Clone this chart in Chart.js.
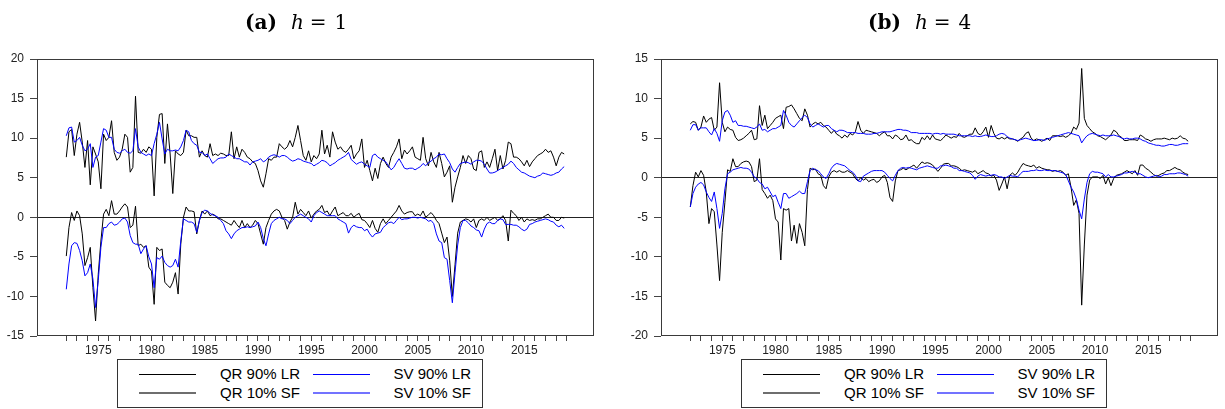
<!DOCTYPE html>
<html>
<head>
<meta charset="utf-8">
<script src="https://cdn.jsdelivr.net/npm/chart.js@4.4.0/dist/chart.umd.min.js"></script>
<style>
  html, body { margin: 0; padding: 0; background: #fff; }
  #page { position: relative; width: 1225px; height: 409px; overflow: hidden; font-family: "Liberation Sans", Arial, sans-serif; }
  canvas { position: absolute; top: 0; }
  .title { position: absolute; top: 10px; font-family: "DejaVu Serif", serif; font-size: 20px; line-height: 24px; color: #000; white-space: nowrap; }
  .legend { position: absolute; top: 359px; width: 364px; height: 47px; border: 1px solid #333; background: #fff; }
  .legend .sw { position: absolute; height: 0; width: 57px; }
  .legend .lb { position: absolute; width: 120px; text-align: right; font-size: 15px; line-height: 18px; color: #000; }
</style>
</head>
<body>
<div id="page">
  <canvas id="chartA" width="612" height="409" style="left:0;width:612px;height:409px"></canvas>
  <canvas id="chartB" width="601" height="409" style="left:624px;width:601px;height:409px"></canvas>
  <div class="title" style="left:245px"><b>(a)</b><span style="margin-left:14px"><i>h</i></span><span style="margin-left:6px">=</span><span style="margin-left:8px">1</span></div>
  <div class="title" style="left:868px"><b>(b)</b><span style="margin-left:14px"><i>h</i></span><span style="margin-left:6px">=</span><span style="margin-left:8px">4</span></div>
  <div class="legend" id="legendA" style="left:117px"></div>
  <div class="legend" id="legendB" style="left:741px"></div>
</div>
<script>
// quarterly data, 1972Q1 - 2018Q4
const startYear = 1972;
const seriesNames = ['QR 90% LR', 'SV 90% LR', 'QR 10% SF', 'SV 10% SF'];

// panel (a) h = 1
const qrUpperA = [
  7.6, 10.8, 11.1, 7.8, 10.5, 12.0, 9.5, 6.3, 9.7, 4.1, 8.9, 8.0, 7.0, 3.6, 10.5, 9.7,
  10.1, 12.2, 8.2, 7.2, 7.6, 8.6, 10.5, 10.1, 5.7, 6.3, 15.3, 8.2, 8.1, 8.6, 8.2, 8.9,
  8.6, 2.7, 10.1, 13.0, 13.1, 6.8, 11.8, 8.0, 3.0, 8.4, 8.0, 7.8, 8.2, 11.0, 10.3, 10.3,
  10.1, 10.1, 7.6, 8.4, 7.8, 7.6, 9.3, 7.8, 8.0, 7.8, 8.1, 8.0, 7.8, 7.8, 10.8, 7.4,
  8.9, 7.6, 8.6, 8.2, 7.6, 7.4, 7.0, 6.8, 5.9, 4.6, 3.8, 5.5, 7.4, 7.2, 7.6, 7.6,
  9.3, 8.9, 8.6, 8.9, 9.7, 8.9, 10.1, 11.6, 9.7, 7.8, 7.2, 8.4, 7.0, 7.8, 7.4, 8.0,
  11.0, 8.0, 9.1, 7.6, 10.8, 9.5, 8.6, 8.9, 8.4, 8.2, 8.6, 9.1, 7.4, 8.0, 8.4, 9.9,
  6.3, 7.2, 5.9, 4.6, 6.2, 4.9, 6.8, 7.6, 6.8, 6.3, 7.6, 8.2, 8.9, 9.9, 7.4, 8.5,
  8.0, 8.4, 8.9, 7.6, 7.4, 7.2, 10.1, 7.4, 6.5, 8.2, 7.0, 6.3, 8.2, 6.8, 5.1, 5.7,
  6.5, 1.9, 3.8, 5.1, 6.3, 7.8, 6.8, 7.8, 7.4, 6.1, 5.9, 8.2, 8.4, 6.3, 7.0, 6.3,
  7.4, 8.6, 5.9, 7.8, 6.1, 7.2, 9.5, 9.3, 7.6, 7.6, 7.4, 7.0, 6.5, 7.2, 6.4, 7.0,
  7.4, 7.8, 8.0, 8.2, 8.6, 8.2, 8.4, 7.6, 6.5, 7.6, 8.2, 8.0
];
const svUpperA = [
  10.3, 11.3, 11.4, 9.5, 9.7, 10.1, 9.1, 8.4, 8.6, 9.3, 6.3, 7.6, 7.8, 9.5, 11.2, 11.0,
  10.1, 10.1, 8.6, 8.2, 8.1, 8.4, 8.6, 8.2, 8.1, 8.4, 11.2, 8.9, 8.2, 8.0, 7.8, 8.0,
  7.8, 9.3, 10.5, 12.0, 9.9, 8.0, 8.6, 8.4, 8.4, 8.5, 8.4, 8.9, 9.7, 11.0, 10.8, 9.7,
  9.3, 9.1, 8.2, 8.2, 7.8, 8.0, 7.4, 6.8, 7.1, 7.4, 7.5, 7.5, 7.6, 8.0, 7.8, 7.6,
  7.4, 7.4, 7.2, 7.0, 7.0, 6.6, 7.0, 7.1, 7.2, 7.4, 7.0, 7.2, 7.6, 7.8, 7.9, 7.8,
  7.6, 7.8, 7.8, 7.6, 7.3, 7.1, 7.2, 7.4, 7.3, 7.1, 7.0, 6.9, 6.8, 6.5, 6.7, 6.9,
  7.2, 7.1, 6.9, 6.5, 6.7, 6.9, 7.2, 7.4, 7.6, 7.8, 8.2, 7.3, 7.0, 6.7, 6.9, 7.0,
  6.7, 6.5, 6.3, 7.8, 8.0, 7.6, 7.4, 7.2, 7.0, 6.5, 6.0, 6.3, 6.9, 7.4, 6.8, 6.2,
  6.1, 6.2, 6.2, 6.0, 6.2, 6.4, 6.8, 6.5, 6.9, 7.1, 7.4, 7.6, 8.0, 7.9, 8.0, 7.4,
  6.9, 6.1, 5.7, 6.3, 6.8, 6.9, 7.0, 6.9, 6.7, 7.0, 7.2, 7.2, 7.1, 6.7, 6.1, 5.6,
  5.6, 5.7, 5.9, 6.1, 6.3, 6.5, 6.7, 7.1, 6.8, 6.3, 6.0, 5.7, 5.6, 5.4, 5.2, 5.1,
  5.0, 5.2, 5.3, 5.6, 5.5, 5.4, 5.3, 5.4, 5.6, 5.7, 6.1, 6.4
];
const qrLowerA = [
  -4.9, -1.3, 0.6, -0.4, 0.8, 0.2, -2.1, -6.1, -5.1, -3.8, -8.9, -13.1, -7.2, -3.0, 0.4, 1.0,
  0.2, 2.1, 0.4, 0.4, 0.8, 1.3, 1.7, 1.3, -1.3, -1.0, 1.4, -3.6, -3.4, -3.8, -3.6, -6.3,
  -6.8, -11.0, -3.8, -4.2, -4.0, -8.2, -8.6, -8.9, -8.2, -7.0, -9.7, -3.4, 0.0, 1.3, 0.8, 0.8,
  0.7, -2.1, -0.4, 0.8, 0.4, 0.8, 0.2, 0.4, 0.2, -0.2, -0.2, -0.4, -0.6, -0.8, -1.0, -0.4,
  -0.9, -1.3, -0.4, -1.3, -0.8, -1.3, -1.0, -0.4, -0.8, -2.1, -3.4, -1.3, -0.4, 0.4, 0.8, 1.0,
  0.8, 0.0, -0.4, -1.5, -0.6, 0.0, 1.9, 0.4, 1.0, 0.6, 0.2, 0.8, -0.1, 0.4, 0.8, 1.0,
  1.5, 0.6, 0.8, 0.2, 0.8, 1.3, 0.2, 0.4, 0.6, 0.2, 0.2, 0.5, 0.0, 0.3, 0.5, -0.3,
  -0.4, -0.8, -1.3, -0.4, -1.4, -1.9, -0.8, -0.2, -0.8, -0.4, 0.0, 0.4, 0.8, 1.5, 0.8, 0.4,
  0.6, 0.7, 0.7, 0.2, 0.4, 0.2, 0.8, 0.0, 0.3, 0.6, 0.2, -0.4, -0.8, -2.0, -3.2, -2.5,
  -5.5, -10.0, -6.0, -2.0, -0.6, -0.4, -0.2, -0.3, -0.6, -0.2, -1.3, -0.4, -0.2, -0.4, 0.0, -0.4,
  -0.2, 0.0, -0.4, -0.2, 0.2, -0.4, -3.0, 0.9, 0.5, 0.2, -0.4, 0.0, -0.6, -0.2, -0.4, -0.3,
  -0.4, -0.2, -0.2, 0.0, 0.2, 0.4, 0.0, 0.0, -0.4, -0.4, 0.0, -0.1
];
const svLowerA = [
  -9.1, -5.9, -3.6, -3.2, -3.3, -4.2, -5.5, -7.4, -7.0, -5.9, -7.8, -11.4, -8.0, -3.8, -1.3, -1.3,
  -0.8, -0.6, -1.0, -0.9, -0.6, -0.2, -0.1, -0.6, -2.3, -3.2, -3.4, -3.4, -4.6, -4.0, -3.6, -5.0,
  -5.9, -8.9, -5.1, -5.3, -4.9, -5.7, -6.1, -6.3, -6.1, -5.3, -6.3, -3.0, -0.2, -0.4, -0.6, -0.6,
  -0.8, -1.9, -0.4, 0.6, 0.9, 0.8, 0.5, 0.3, 0.2, 0.0, -0.4, -0.8, -1.7, -2.1, -2.7, -2.1,
  -1.7, -1.5, -1.3, -1.3, -1.2, -1.3, -1.2, -1.1, -0.6, -1.3, -2.7, -3.6, -2.1, -0.8, -0.4, -0.2,
  0.0, -0.2, -0.2, -0.4, -0.8, -0.4, 0.0, 0.2, 0.4, 0.2, 0.0, -0.2, -0.6, 0.2, 0.6, 0.8,
  0.6, 0.4, 0.2, 0.2, 0.2, 0.2, -0.2, -0.4, -0.6, -0.8, -2.0, -1.3, -1.0, -1.2, -1.3, -1.3,
  -1.7, -1.5, -2.1, -2.5, -2.1, -2.0, -1.9, -1.3, -1.0, -0.7, -0.6, -0.8, -0.4, 0.0, -0.3, -0.2,
  -0.2, -0.1, 0.0, 0.0, -0.1, 0.0, -0.1, -0.2, -0.5, -0.4, -0.8, -2.1, -3.0, -3.2, -5.1, -5.3,
  -8.0, -10.8, -7.0, -3.5, -1.3, -0.4, -0.4, -0.7, -1.1, -1.3, -1.6, -1.7, -2.5, -1.5, -0.8, -0.6,
  -0.8, -0.8, -0.4, -0.2, -0.3, -0.9, -0.9, -0.9, -1.0, -1.0, -1.2, -1.5, -1.7, -1.5, -0.9, -0.8,
  -0.6, -0.5, -0.4, -0.3, -0.2, -0.3, -0.5, -0.6, -1.0, -1.2, -1.0, -1.4
];

// panel (b) h = 4
const qrUpperB = [
  6.8, 7.1, 7.0, 6.0, 6.4, 7.8, 7.0, 7.4, 7.6, 6.0, 6.4, 12.0, 7.0, 5.8, 6.4, 6.1,
  6.0, 5.1, 4.7, 4.8, 5.0, 5.3, 5.6, 6.0, 4.8, 4.9, 9.1, 6.6, 7.9, 6.2, 6.6, 7.0,
  7.5, 7.7, 7.9, 6.2, 8.9, 9.0, 9.2, 8.7, 8.1, 7.5, 7.2, 8.7, 7.9, 6.4, 6.8, 7.0,
  6.8, 7.0, 6.6, 6.4, 6.0, 5.6, 6.0, 5.5, 5.3, 5.0, 5.4, 5.1, 5.6, 5.4, 5.8, 7.1,
  6.0, 5.6, 6.0, 5.9, 5.8, 5.7, 5.6, 5.3, 5.6, 5.8, 5.3, 5.3, 4.9, 5.4, 5.2, 4.8,
  4.9, 5.4, 4.7, 4.8, 4.5, 4.3, 4.3, 5.1, 4.8, 5.3, 4.8, 5.4, 4.9, 4.8, 4.7, 5.0,
  5.4, 5.2, 5.0, 5.2, 5.1, 5.6, 5.2, 5.1, 5.3, 5.5, 5.5, 6.3, 5.6, 5.4, 5.8, 6.4,
  5.1, 6.6, 5.6, 5.0, 4.9, 5.1, 4.9, 5.1, 4.9, 4.9, 4.8, 4.6, 4.9, 5.1, 5.6, 5.8,
  5.0, 4.7, 4.9, 4.8, 4.6, 4.8, 5.0, 4.7, 5.3, 5.3, 5.3, 5.2, 5.3, 5.1, 5.3, 5.6,
  6.4, 6.1, 6.9, 13.8, 7.5, 6.6, 6.2, 5.8, 5.6, 5.3, 5.2, 5.0, 4.8, 5.1, 5.4, 6.0,
  5.8, 5.3, 5.1, 4.7, 4.7, 4.8, 4.8, 4.8, 4.7, 5.4, 5.2, 4.9, 4.8, 4.6, 4.8, 4.9,
  4.9, 4.9, 5.0, 4.9, 4.8, 5.0, 4.9, 5.0, 5.3, 5.0, 4.9, 4.6
];
const svUpperB = [
  6.0, 6.7, 6.7, 6.0, 6.3, 6.3, 6.3, 5.8, 5.4, 6.2, 5.6, 4.6, 7.2, 8.3, 8.5, 7.9,
  7.0, 7.2, 6.6, 6.6, 6.5, 6.5, 6.4, 6.3, 6.2, 6.4, 6.8, 6.0, 6.1, 5.8, 6.0, 6.2,
  6.2, 6.4, 6.6, 8.5, 7.9, 7.0, 6.6, 6.4, 6.8, 7.2, 7.6, 7.9, 7.6, 6.8, 6.4, 6.6,
  6.8, 6.6, 6.4, 6.6, 6.6, 6.2, 6.0, 5.8, 6.0, 6.0, 5.9, 5.7, 5.7, 5.7, 5.7, 5.6,
  5.6, 5.6, 5.5, 5.5, 5.5, 5.6, 5.6, 5.7, 5.8, 5.8, 5.8, 5.8, 5.9, 6.0, 6.1, 6.1,
  6.0, 6.0, 5.9, 5.7, 5.7, 5.7, 5.6, 5.6, 5.6, 5.6, 5.6, 5.5, 5.6, 5.6, 5.5, 5.6,
  5.5, 5.5, 5.5, 5.5, 5.4, 5.3, 5.3, 5.3, 5.3, 5.3, 5.2, 5.3, 5.2, 5.2, 5.3, 5.4,
  5.3, 5.2, 5.2, 5.3, 5.5, 5.6, 5.5, 5.2, 5.0, 4.9, 4.8, 4.7, 4.8, 4.9, 5.0, 4.9,
  4.8, 4.7, 4.7, 4.8, 4.8, 4.7, 4.9, 5.0, 5.1, 5.2, 5.3, 5.4, 5.5, 5.6, 5.7, 5.6,
  5.5, 5.4, 5.3, 4.4, 4.9, 5.3, 5.5, 5.6, 5.5, 5.4, 5.3, 5.4, 5.3, 5.3, 5.3, 5.4,
  5.3, 5.2, 5.0, 4.9, 5.0, 4.9, 4.9, 5.0, 5.0, 4.9, 4.7, 4.6, 4.4, 4.3, 4.2, 4.1,
  4.1, 4.0, 4.0, 4.1, 4.2, 4.2, 4.1, 4.1, 4.2, 4.3, 4.3, 4.3
];
const qrLowerB = [
  -3.7, -1.0, 0.7, 0.1, 0.9, 0.3, -1.8, -5.8, -3.9, -4.3, -8.5, -13.0, -6.9, -3.1, 1.0, 0.8,
  2.4, 1.4, 1.4, 1.8, 2.0, 2.1, 2.0, 1.4, -0.5, -0.3, 2.4, -1.5, -2.0, -2.6, -2.2, -2.9,
  -5.2, -5.6, -10.4, -3.9, -4.1, -3.9, -8.0, -6.0, -8.3, -5.8, -6.9, -8.6, -1.5, 1.2, 1.0, 1.1,
  0.5, 0.3, -1.0, -1.4, 0.1, 0.7, 0.9, 0.7, 0.9, 0.7, 0.7, 0.9, 0.7, 0.5, -0.1, -0.4,
  0.0, -0.3, -0.1, -0.5, -0.3, -0.2, -0.6, -0.4, 0.1, 0.3, -0.6, -2.5, -3.0, -0.4, 0.9, 1.0,
  1.2, 1.0, 1.2, 1.4, 1.6, 1.2, 1.6, 2.0, 1.8, 1.9, 1.8, 1.6, 1.2, 0.8, 1.2, 1.7,
  1.8, 1.8, 1.5, 1.5, 1.4, 1.2, 0.9, 1.0, 0.9, 0.8, 0.7, 0.9, 0.5, 0.7, 0.9, 0.6,
  0.5, 0.2, 0.3, -0.3, -1.6, -0.8, 0.1, -1.4, 0.3, 0.6, 0.3, 0.7, 1.3, 1.8, 1.6, 1.5,
  1.4, 1.6, 1.2, 1.4, 1.2, 1.1, 1.0, 1.0, 0.8, 0.9, 0.8, 0.9, 0.7, 0.3, 0.5, -1.2,
  -3.5, -2.8, -4.5, -16.1, -8.5, -2.2, -0.3, 0.1, 0.1, 0.1, -0.1, 0.3, -0.8, 0.0, -1.0, -0.1,
  0.3, 0.4, 0.5, 0.7, 0.9, 0.7, 0.5, 0.9, 0.3, 1.6, 1.6, 1.2, 1.0, 0.7, 0.4, 0.2,
  0.3, 0.5, 0.6, 0.9, 0.9, 1.1, 1.3, 1.1, 1.0, 0.7, 0.5, 0.4
];
const svLowerB = [
  -3.7, -2.0, -1.2, -0.8, -0.6, -0.9, -1.8, -2.5, -3.0, -1.8, -3.9, -6.4, -4.5, -1.4, 0.5, 0.7,
  1.0, 1.1, 1.2, 1.3, 1.2, 1.2, 1.1, 0.7, 0.1, -0.1, -0.6, -0.8, -1.4, -1.2, -1.8, -2.4,
  -2.2, -3.1, -3.9, -2.0, -2.0, -2.6, -2.4, -2.2, -2.0, -1.7, -2.0, -2.0, -0.5, 0.9, 1.2, 1.0,
  0.9, 0.5, 0.1, -0.1, 0.5, 1.2, 1.6, 1.8, 1.7, 1.6, 1.5, 1.2, 0.9, 0.7, 0.3, -0.4,
  -0.5, 0.2, 0.4, 0.6, 0.8, 0.9, 0.9, 0.9, 0.9, 0.7, 0.3, -0.1, -0.4, 0.3, 0.9, 1.2,
  1.3, 1.2, 1.3, 1.2, 1.1, 1.0, 1.2, 1.3, 1.4, 1.5, 1.4, 1.3, 1.2, 1.2, 1.5, 1.5,
  1.6, 1.5, 1.4, 1.2, 1.2, 0.9, 0.9, 0.8, 0.7, 0.6, 0.3, -0.2, 0.2, 0.4, 0.3, 0.2,
  0.3, 0.3, 0.4, 0.3, 0.1, 0.1, -0.1, 0.1, 0.3, 0.2, 0.2, 0.1, 0.5, 0.8, 0.8, 0.8,
  0.9, 0.9, 1.0, 0.9, 0.9, 1.0, 0.9, 0.9, 0.9, 0.9, 0.8, 0.7, 0.6, 0.4, -0.4, -1.2,
  -1.8, -2.7, -4.1, -5.2, -2.7, -0.6, 0.5, 0.8, 0.7, 0.7, 0.6, 0.5, 0.1, 0.4, 0.1, 0.1,
  0.2, 0.3, 0.4, 0.6, 0.6, 0.7, 0.8, 0.7, 0.5, 0.5, 0.3, 0.1, 0.0, 0.1, 0.2, 0.3,
  0.1, 0.2, 0.4, 0.4, 0.5, 0.5, 0.5, 0.6, 0.6, 0.5, 0.4, 0.2
];

const quarters = qrUpperA.map((_, i) => startYear + i / 4);

function toPoints(values) {
  return values.map((v, i) => ({ x: quarters[i], y: v }));
}

// draw the box around the plot area
const frameBox = {
  id: 'frameBox',
  afterDatasetsDraw(chart) {
    const a = chart.chartArea;
    const ctx = chart.ctx;
    ctx.save();
    ctx.strokeStyle = '#3a3a3a';
    ctx.lineWidth = 1;
    ctx.strokeRect(Math.round(a.left) + 0.5, Math.round(a.top) + 0.5,
                   Math.round(a.right - a.left) - 1, Math.round(a.bottom - a.top) - 1);
    ctx.restore();
  }
};

function makePanel(canvasId, series, yMin, yMax, rightPad) {
  const colors = ['#000000', '#0000ff', '#000000', '#0000ff'];
  const datasets = series.map((s, k) => ({
    label: seriesNames[k],
    data: toPoints(s),
    borderColor: colors[k],
    borderWidth: 1,
    pointRadius: 0,
    tension: 0,
    fill: false,
    order: k % 2 === 0 ? 2 : 1
  }));

  return new Chart(document.getElementById(canvasId), {
    type: 'line',
    data: { datasets: datasets },
    options: {
      responsive: false,
      animation: false,
      layout: { padding: { left: 0, right: rightPad, top: 59, bottom: 43 } },
      plugins: { legend: { display: false }, tooltip: { enabled: false } },
      scales: {
        x: {
          type: 'linear',
          min: 1969.25,
          max: 2021.55,
          afterFit: s => { s.height = 30; },
          afterBuildTicks: s => {
            s.ticks = s.ticks.filter(t => Number.isInteger(t.value) && t.value >= 1972 && t.value <= 2019);
          },
          ticks: {
            stepSize: 1,
            includeBounds: false,
            autoSkip: false,
            maxRotation: 0,
            padding: 2,
            color: '#222',
            font: { family: 'Liberation Sans', size: 12 },
            callback: v => (v % 5 === 0 ? String(v) : '')
          },
          grid: { drawOnChartArea: false, tickLength: 5, tickColor: '#444' },
          border: { display: false }
        },
        y: {
          min: yMin,
          max: yMax,
          afterFit: s => { s.width = 37; },
          ticks: {
            stepSize: 5,
            padding: 6,
            color: '#222',
            font: { family: 'Liberation Sans', size: 12 }
          },
          grid: {
            color: c => (c.tick && c.tick.value === 0 ? '#222' : 'rgba(0,0,0,0)'),
            lineWidth: 1,
            tickColor: '#444',
            tickLength: 7
          },
          border: { display: false }
        }
      }
    },
    plugins: [frameBox]
  });
}

function makeLegend(boxId) {
  const box = document.getElementById(boxId);
  const swatches = [
    { color: '#000000', width: 1 },
    { color: '#0000ff', width: 1 },
    { color: '#6e6e6e', width: 2 },
    { color: '#7373ff', width: 2 }
  ];
  seriesNames.forEach((name, k) => {
    const row = Math.floor(k / 2), col = k % 2;
    const cy = row === 0 ? 14 : 33;
    const sw = document.createElement('div');
    sw.className = 'sw';
    sw.style.left = (col === 0 ? 21 : 195) + 'px';
    sw.style.top = (cy - Math.floor(swatches[k].width / 2)) + 'px';
    sw.style.borderTop = swatches[k].width + 'px solid ' + swatches[k].color;
    box.appendChild(sw);
    const lb = document.createElement('div');
    lb.className = 'lb';
    lb.textContent = name;
    lb.style.left = (col === 0 ? 62 : 233) + 'px';
    lb.style.top = (cy - 9) + 'px';
    box.appendChild(lb);
  });
}

makePanel('chartA', [qrUpperA, svUpperA, qrLowerA, svLowerA], -15, 20, 18);
makePanel('chartB', [qrUpperB, svUpperB, qrLowerB, svLowerB], -20, 15, 7);
makeLegend('legendA');
makeLegend('legendB');
</script>
</body>
</html>
